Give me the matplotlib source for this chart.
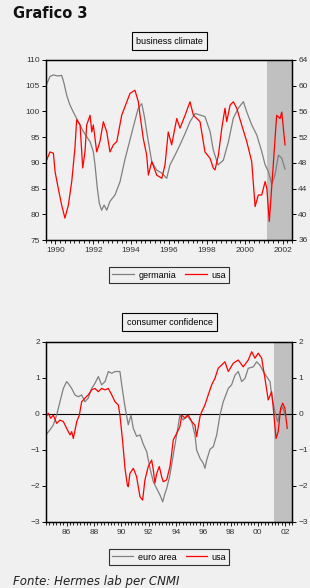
import numpy as np
import matplotlib
matplotlib.use('Agg')
import matplotlib.pyplot as plt
from matplotlib.lines import Line2D

# ---- business climate (top) ----
bc_ger_t = [1989.50, 1989.71, 1989.89, 1990.10, 1990.33, 1990.45, 1990.59, 1990.75, 1990.94,
            1991.21, 1991.47, 1991.83, 1992.00, 1992.09, 1992.21, 1992.32, 1992.44, 1992.57,
            1992.71, 1992.88, 1993.15, 1993.41, 1993.68, 1993.94, 1994.15, 1994.38, 1994.56,
            1994.70, 1994.82, 1994.91, 1995.09, 1995.35, 1995.62, 1995.88, 1996.05, 1996.32,
            1996.58, 1996.85, 1997.11, 1997.38, 1997.64, 1997.90, 1998.17, 1998.34, 1998.59,
            1998.87, 1999.14, 1999.40, 1999.66, 1999.93, 2000.11, 2000.37, 2000.64, 2000.90,
            2001.08, 2001.25, 2001.43, 2001.60, 2001.78, 2001.96, 2002.13]
bc_ger = [105.0, 106.8, 107.1, 106.9, 107.0, 105.5, 103.2, 101.4, 99.9,
          98.0, 96.1, 94.1, 92.2, 89.6, 85.1, 82.1, 80.8, 81.8,
          80.8, 82.5, 83.8, 86.3, 90.8, 94.5, 97.5, 100.7, 101.5,
          99.0, 96.1, 94.1, 90.2, 88.6, 88.0, 87.0, 89.6, 91.5,
          93.5, 95.7, 98.0, 99.6, 99.3, 99.0, 96.1, 92.5, 89.6,
          90.5, 94.1, 98.7, 100.6, 101.9, 99.9, 97.4, 95.4, 92.2,
          89.6, 88.3, 85.9, 87.6, 91.5, 90.9, 88.8]

bc_usa_t = [1989.50, 1989.71, 1989.89, 1989.98, 1990.15, 1990.33, 1990.50, 1990.68, 1990.86,
            1991.03, 1991.12, 1991.30, 1991.44, 1991.56, 1991.65, 1991.83, 1991.92, 1992.00,
            1992.18, 1992.35, 1992.53, 1992.71, 1992.88, 1993.06, 1993.24, 1993.50, 1993.77,
            1993.94, 1994.20, 1994.38, 1994.47, 1994.64, 1994.82, 1994.91, 1995.09, 1995.35,
            1995.62, 1995.79, 1995.96, 1996.14, 1996.41, 1996.58, 1996.85, 1997.11, 1997.29,
            1997.47, 1997.64, 1997.90, 1998.17, 1998.34, 1998.43, 1998.61, 1998.79, 1998.96,
            1999.05, 1999.23, 1999.40, 1999.58, 1999.84, 2000.11, 2000.37, 2000.55, 2000.72,
            2000.90, 2001.08, 2001.17, 2001.30, 2001.51, 2001.69, 2001.87, 2001.96, 2002.13]
bc_usa = [48.2, 49.7, 49.5, 46.6, 44.0, 41.4, 39.4, 41.4, 45.1,
          50.3, 54.7, 53.9, 47.2, 49.7, 53.9, 55.4, 52.8, 53.9,
          49.7, 51.3, 54.4, 52.8, 49.7, 50.8, 51.3, 55.4, 57.5,
          58.8, 59.3, 57.5, 55.4, 51.8, 49.2, 46.1, 48.2, 46.1,
          45.6, 47.7, 52.8, 50.8, 54.9, 53.4, 55.4, 57.5, 55.4,
          54.9, 54.4, 49.7, 48.7, 47.2, 46.9, 49.2, 53.4, 56.5,
          54.4, 57.0, 57.5, 56.5, 53.9, 51.3, 48.2, 41.2, 43.0,
          43.0, 45.1, 44.0, 38.9, 47.7, 55.4, 54.9, 55.9, 50.8]

# ---- consumer confidence (bottom) ----
cc_eur_t = [1984.50, 1984.79, 1985.03, 1985.28, 1985.52, 1985.77, 1986.01, 1986.13, 1986.38,
            1986.62, 1986.86, 1987.11, 1987.35, 1987.59, 1987.84, 1988.08, 1988.33, 1988.57,
            1988.82, 1989.06, 1989.31, 1989.55, 1989.91, 1990.04, 1990.28, 1990.52, 1990.72,
            1990.89, 1991.13, 1991.38, 1991.62, 1991.87, 1992.11, 1992.35, 1992.60, 1992.84,
            1993.04, 1993.21, 1993.33, 1993.57, 1993.81, 1994.06, 1994.30, 1994.54, 1994.79,
            1995.16, 1995.40, 1995.52, 1995.77, 1996.01, 1996.13, 1996.26, 1996.50, 1996.74,
            1996.99, 1997.23, 1997.47, 1997.84, 1998.08, 1998.33, 1998.57, 1998.82, 1999.06,
            1999.30, 1999.67, 1999.91, 2000.15, 2000.40, 2000.64, 2000.89, 2001.01, 2001.25,
            2001.45, 2001.62, 2001.82, 2001.98]
cc_eur = [-0.58, -0.44, -0.31, -0.03, 0.34, 0.71, 0.90, 0.85, 0.71,
          0.53, 0.48, 0.53, 0.34, 0.44, 0.71, 0.85, 1.04, 0.81,
          0.90, 1.18, 1.13, 1.18, 1.18, 0.81, 0.20, -0.30, -0.03,
          -0.40, -0.62, -0.58, -0.84, -1.05, -1.51, -1.88, -2.07, -2.25,
          -2.44, -2.20, -2.07, -1.69, -1.14, -0.58, -0.03, -0.17, -0.03,
          -0.21, -0.58, -1.00, -1.23, -1.37, -1.51, -1.28, -0.98, -0.91,
          -0.58, -0.03, 0.34, 0.71, 0.81, 1.08, 1.18, 0.90, 0.99,
          1.27, 1.31, 1.45, 1.36, 1.18, 1.04, 0.90, 0.53, 0.06,
          -0.21, 0.06, 0.20, -0.03]

cc_usa_t = [1984.50, 1984.67, 1984.84, 1985.03, 1985.28, 1985.52, 1985.77, 1986.01, 1986.26,
            1986.38, 1986.50, 1986.75, 1986.94, 1987.11, 1987.35, 1987.59, 1987.84, 1988.08,
            1988.33, 1988.57, 1988.82, 1989.06, 1989.31, 1989.55, 1989.79, 1989.91, 1990.11,
            1990.28, 1990.45, 1990.52, 1990.64, 1990.89, 1991.13, 1991.25, 1991.38, 1991.57,
            1991.74, 1991.98, 1992.23, 1992.35, 1992.47, 1992.60, 1992.79, 1992.96, 1993.08,
            1993.33, 1993.57, 1993.70, 1993.81, 1994.06, 1994.30, 1994.43, 1994.67, 1994.91,
            1995.16, 1995.40, 1995.52, 1995.77, 1995.89, 1996.13, 1996.37, 1996.62, 1996.86,
            1997.10, 1997.35, 1997.59, 1997.84, 1998.20, 1998.57, 1998.93, 1999.30, 1999.55,
            1999.79, 2000.03, 2000.28, 2000.52, 2000.76, 2001.01, 2001.13, 2001.33, 2001.49,
            2001.67, 2001.82, 2001.98, 2002.15]
cc_usa = [-0.07, 0.02, -0.12, -0.03, -0.26, -0.17, -0.21, -0.40, -0.58,
          -0.49, -0.68, -0.21, -0.03, 0.34, 0.44, 0.53, 0.67, 0.71,
          0.62, 0.71, 0.67, 0.71, 0.53, 0.34, 0.25, -0.03, -0.77,
          -1.51, -1.97, -2.02, -1.65, -1.51, -1.74, -2.02, -2.30, -2.39,
          -1.83, -1.46, -1.28, -1.55, -1.92, -1.65, -1.46, -1.74, -1.88,
          -1.83, -1.46, -1.09, -0.72, -0.54, -0.35, -0.03, -0.12, -0.03,
          -0.21, -0.31, -0.63, -0.07, 0.06, 0.25, 0.53, 0.81, 0.99,
          1.27, 1.36, 1.45, 1.18, 1.41, 1.50, 1.31, 1.50, 1.73,
          1.55, 1.69, 1.55, 0.99, 0.39, 0.62, 0.16, -0.68, -0.49,
          0.16, 0.30, 0.16, -0.40]

recession = (2001.2, 2002.5)

GRAY = '#808080'
RED = '#ff0000'
BG = '#f0f0f0'
TXT = '#333333'

plt.rcParams['font.family'] = ['Liberation Sans', 'DejaVu Sans']

fig = plt.figure(figsize=(3.1, 5.88), dpi=100)
fig.patch.set_facecolor(BG)


def style_axes(ax):
    ax.set_facecolor('none')
    for s in ax.spines.values():
        s.set_linewidth(0.9)
        s.set_color('black')
    ax.tick_params(axis='y', labelsize=6, colors='black', labelcolor=TXT,
                   length=3, width=0.7, direction='out', pad=1.5)
    ax.tick_params(axis='x', which='both', labelsize=6, labelcolor=TXT,
                   direction='out', width=0.6, pad=2)
    ax.tick_params(axis='x', which='major', length=3)
    ax.tick_params(axis='x', which='minor', length=2)


def boxed_title(y, text):
    fig.text(169.5 / 310, 1 - y / 588, text, ha='center', va='center', fontsize=6.5,
             bbox=dict(boxstyle='square,pad=0.5', fc='none', ec='black', lw=0.8))


def boxed_legend(y, labels):
    leg = fig.legend(handles=[Line2D([], [], color=GRAY, lw=0.9, label=labels[0]),
                              Line2D([], [], color=RED, lw=0.9, label=labels[1])],
                     loc='center', bbox_to_anchor=(169 / 310, 1 - y / 588), ncol=2,
                     fontsize=6.5, frameon=True, fancybox=False, edgecolor='black',
                     facecolor='none', handlelength=2.4, columnspacing=1.0,
                     handletextpad=0.5, borderpad=0.35)
    leg.get_frame().set_linewidth(0.8)


fig.text(13 / 310, 1 - 14 / 588, 'Grafico 3', fontsize=10.5, fontweight='bold',
         family='DejaVu Sans', ha='left', va='center', color='#111111')

# ---- top: business climate ----
ax1 = fig.add_axes([46 / 310, 1 - 240 / 588, 246 / 310, 180 / 588])
ax1r = ax1.twinx()
ax1.axvspan(*recession, color='#c0c0c0', lw=0, zorder=0)
ax1.plot(bc_ger_t, bc_ger, color=GRAY, lw=0.9)
ax1r.plot(bc_usa_t, bc_usa, color=RED, lw=0.9)
ax1.set_xlim(1989.5, 2002.5)
ax1.set_ylim(75, 110)
ax1r.set_ylim(36, 64)
ax1.set_yticks(np.arange(75, 111, 5))
ax1r.set_yticks(np.arange(36, 65, 4))
ax1.set_xticks(np.arange(1990, 2003, 2))
ax1.set_xticks(np.arange(1989.5, 2002.6, 0.25), minor=True)
style_axes(ax1)
style_axes(ax1r)
boxed_title(41, 'business climate')
boxed_legend(275, ('germania', 'usa'))

# ---- bottom: consumer confidence ----
ax2 = fig.add_axes([46 / 310, 1 - 522 / 588, 246 / 310, 180 / 588])
ax2r = ax2.twinx()
ax2.axvspan(*recession, color='#c0c0c0', lw=0, zorder=0)
ax2.axhline(0, color='black', lw=0.8)
ax2.plot(cc_eur_t, cc_eur, color=GRAY, lw=0.9)
ax2.plot(cc_usa_t, cc_usa, color=RED, lw=0.9)
ax2.set_xlim(1984.5, 2002.5)
ax2.set_ylim(-3, 2)
ax2r.set_ylim(-3, 2)
ax2.set_yticks(np.arange(-3, 3, 1))
ax2r.set_yticks(np.arange(-3, 3, 1))
years = np.arange(1986, 2003, 2)
ax2.set_xticks(years)
ax2.set_xticklabels([f'{y % 100:02d}' for y in years])
ax2.set_xticks(np.arange(1984.5, 2002.6, 0.25), minor=True)
style_axes(ax2)
style_axes(ax2r)
boxed_title(322, 'consumer confidence')
boxed_legend(557, ('euro area', 'usa'))

fig.text(13 / 310, 1 - 582 / 588, 'Fonte: Hermes lab per CNMI', fontsize=8.5,
         style='italic', family='DejaVu Sans', ha='left', va='center', color='#222222')

fig.savefig('out.png', dpi=100, facecolor=BG)
